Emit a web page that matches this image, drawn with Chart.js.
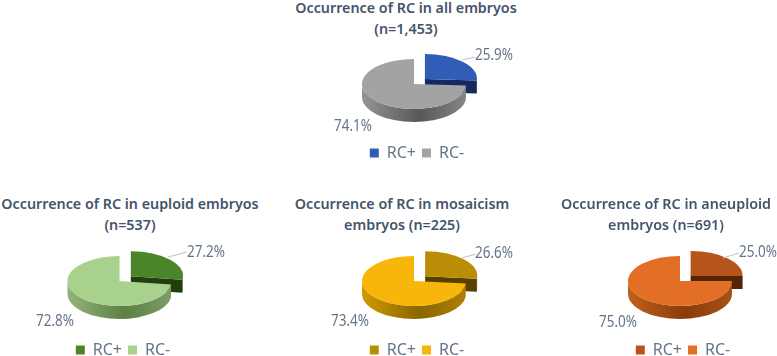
<!DOCTYPE html>
<html lang="en">
<head>
  <meta charset="UTF-8">
  <title>Occurrence of RC</title>
  <script src="https://cdn.jsdelivr.net/npm/chart.js"></script>
  <style>
    html, body { margin: 0; background: #fff; overflow: hidden; width: 777px; height: 356px; }
    body { position: relative; font-family: "Noto Sans", sans-serif; }
    canvas { position: absolute; }
    .title {
      position: absolute;
      width: 300px;
      text-align: center;
      color: #44546a;
      font-size: 14.3px;
      font-weight: 600;
      line-height: 21px;
      white-space: nowrap;
    }
  </style>
</head>
<body>
  <script>
    const categories = ['RC+', 'RC-'];
    const titles = [
      ['Occurrence of RC in all embryos', '(n=1,453)'],
      ['Occurrence of RC in euploid embryos', '(n=537)'],
      ['Occurrence of RC in mosaicism', 'embryos (n=225)'],
      ['Occurrence of RC in aneuploid', 'embryos (n=691)']
    ];
    const rcPlus = [25.9, 27.2, 26.6, 25.0];
    const rcMinus = [74.1, 72.8, 73.4, 75.0];
    const plusColors = ['#305db6', '#4a8529', '#bb8d06', '#b5541b'];
    const minusColors = ['#a3a3a3', '#a9d18e', '#f8b50a', '#e36e25'];
    const plusDark = ['#14295f', '#213f0e', '#574100', '#552405'];
    const wallColors = [
      ['#959595', '#585858', '#858585'],
      ['#93b57b', '#5c7f45', '#7e9e68'],
      ['#d09a00', '#8a6600', '#b08000'],
      ['#c0601c', '#8a3c0a', '#a85215']
    ];

    // layout of each panel, page pixels
    const panels = [
      { titleX: 406, titleY: -3,  legendX: 417, legendY: 153, cx: 414, cy: 84,
        plusLabel: [494, 55], minusLabel: [353, 126], leader: [462, 60, 475, 57] },
      { titleX: 130, titleY: 193, legendX: 123, legendY: 350, cx: 119.5, cy: 281,
        plusLabel: [206, 252], minusLabel: [55, 321], leader: [168, 257, 187, 252] },
      { titleX: 402, titleY: 193, legendX: 417, legendY: 350, cx: 414, cy: 281,
        plusLabel: [494, 253], minusLabel: [350, 321], leader: [462, 258, 476, 254] },
      { titleX: 666, titleY: 193, legendX: 683, legendY: 350, cx: 680, cy: 281,
        plusLabel: [758, 252], minusLabel: [618, 322], leader: [723, 258, 739, 253] }
    ];

    const rx = 52, ry = 25, depth = 13;
    const canvasW = 240, canvasH = 170;
    const labelColor = '#657489';

    // fake 3D: squash the pie and draw its wall before the slices
    const pie3d = {
      id: 'pie3d',
      beforeDatasetDraw(chart) {
        const p = chart.options.plugins.pie3d;
        const ctx = chart.ctx;
        const arcs = chart.getDatasetMeta(0).data;
        const k = ry / rx;
        ctx.save();
        ctx.translate(p.x, p.y);
        ctx.scale(1, k);
        ctx.translate(-arcs[0].x, -arcs[0].y);
        const d = depth / k;
        arcs.forEach((arc, i) => {
          const mid = (arc.startAngle + arc.endAngle) / 2;
          const off = (arc.options.offset || 0) / 4;
          const x = arc.x + Math.cos(mid) * off;
          const y = arc.y + Math.sin(mid) * off;
          const r = arc.outerRadius;
          // outer wall, front half only
          const a0 = Math.max(arc.startAngle, 0);
          const a1 = Math.min(arc.endAngle, Math.PI);
          if (a1 > a0) {
            const g = ctx.createLinearGradient(x - r, 0, x + r, 0);
            g.addColorStop(0, p.wall[0]);
            g.addColorStop(0.55, p.wall[1]);
            g.addColorStop(1, p.wall[2]);
            ctx.fillStyle = i === 0 ? p.cut : g;
            ctx.beginPath();
            ctx.arc(x, y, r, a0, a1);
            ctx.arc(x, y + d, r, a1, a0, true);
            ctx.closePath();
            ctx.fill();
          }
          // cut face of the pulled out slice
          if (i === 0) {
            const ex = x + Math.cos(arc.endAngle) * r;
            const ey = y + Math.sin(arc.endAngle) * r;
            ctx.fillStyle = p.cut;
            ctx.beginPath();
            ctx.moveTo(x, y);
            ctx.lineTo(ex, ey);
            ctx.lineTo(ex, ey + d);
            ctx.lineTo(x, y + d);
            ctx.closePath();
            ctx.fill();
          }
        });
      },
      afterDatasetDraw(chart) {
        chart.ctx.restore();
      },
      afterDraw(chart) {
        const p = chart.options.plugins.pie3d;
        const ctx = chart.ctx;
        const vals = chart.data.datasets[0].data;
        ctx.save();
        ctx.translate(-p.left, -p.top);
        ctx.strokeStyle = '#b8c0ca';
        ctx.lineWidth = 1;
        ctx.beginPath();
        ctx.moveTo(p.leader[0], p.leader[1]);
        ctx.lineTo(p.leader[2], p.leader[3]);
        ctx.stroke();
        ctx.fillStyle = labelColor;
        ctx.font = '17px "Noto Sans"';
        ctx.textAlign = 'center';
        ctx.textBaseline = 'middle';
        // squeeze to the narrow look of the original labels
        ctx.fillText(vals[0].toFixed(1) + '%', p.plusLabel[0], p.plusLabel[1], 38);
        ctx.fillText(vals[1].toFixed(1) + '%', p.minusLabel[0], p.minusLabel[1], 38);
        ctx.restore();
      }
    };

    panels.forEach((p, i) => {
      const t = document.createElement('div');
      t.className = 'title';
      t.style.left = (p.titleX - 150) + 'px';
      t.style.top = p.titleY + 'px';
      t.innerHTML = titles[i].join('<br>');
      document.body.appendChild(t);

      const left = p.legendX - canvasW / 2;
      const top = p.legendY + 18 - canvasH;
      const c = document.createElement('canvas');
      c.width = canvasW;
      c.height = canvasH;
      c.style.left = left + 'px';
      c.style.top = top + 'px';
      document.body.appendChild(c);

      new Chart(c, {
        type: 'pie',
        plugins: [pie3d],
        data: {
          labels: categories,
          datasets: [{
            data: [rcPlus[i], rcMinus[i]],
            backgroundColor: [plusColors[i], minusColors[i]],
            borderWidth: 0,
            offset: [60, 0],
            clip: false
          }]
        },
        options: {
          responsive: false,
          animation: false,
          events: [],
          radius: rx,
          layout: { padding: 0 },
          plugins: {
            tooltip: { enabled: false },
            title: { display: false },
            legend: {
              position: 'bottom',
              labels: {
                boxWidth: 9,
                boxHeight: 9,
                padding: 6,
                color: labelColor,
                font: { family: '"Noto Sans"', size: 16 }
              }
            },
            pie3d: {
              x: p.cx - left,
              y: p.cy - top,
              left, top,
              plusLabel: p.plusLabel,
              minusLabel: p.minusLabel,
              leader: p.leader,
              cut: plusDark[i],
              wall: wallColors[i]
            }
          }
        }
      });
    });
  </script>
</body>
</html>
